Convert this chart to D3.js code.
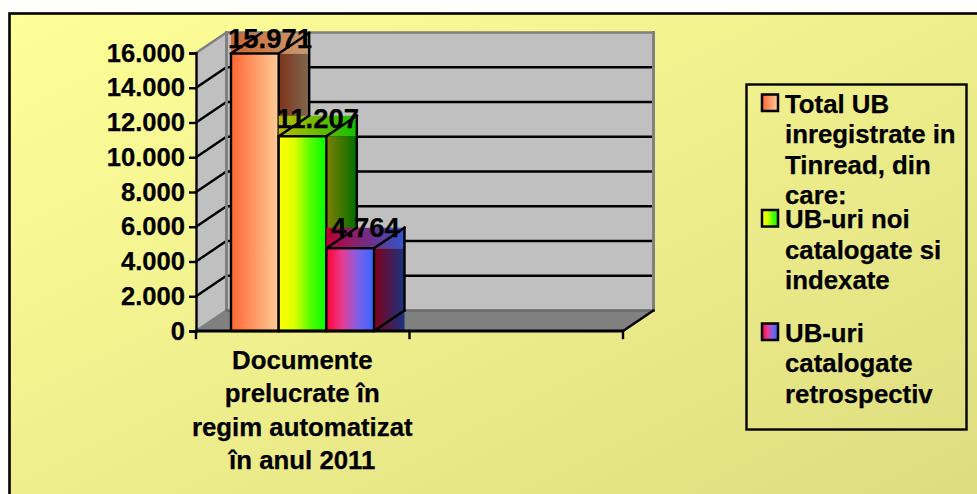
<!DOCTYPE html>
<html><head><meta charset="utf-8">
<style>html,body{margin:0;padding:0;background:#fff;overflow:hidden}svg{display:block}text{font-family:"Liberation Sans",Arial,sans-serif;font-weight:bold;fill:#000;stroke:#000;stroke-width:.25px}</style>
<script src="https://cdn.jsdelivr.net/npm/d3@7"></script></head>
<body><div id="chart"></div>
<script>
const categories = ["Documente prelucrate în regim automatizat în anul 2011", ""];
const categoryLines = ["Documente", "prelucrate în", "regim automatizat", "în anul 2011"];
const seriesNames = ["total", "noi", "retro"];
const seriesValues = [15971, 11207, 4764];
const valueLabels = ["15.971", "11.207", "4.764"];
const yTicks = [0, 2000, 4000, 6000, 8000, 10000, 12000, 14000, 16000];
const yTickLabels = ["0", "2.000", "4.000", "6.000", "8.000", "10.000", "12.000", "14.000", "16.000"];
const legendLines = [
  ["Total UB", "inregistrate in", "Tinread, din", "care:"],
  ["UB-uri noi", "catalogate si", "indexate"],
  ["UB-uri", "catalogate", "retrospectiv"]
];
const frontColors = [["#FF6633", "#FFCC99"], ["#FFFF00", "#DDFF00", "#55FF00", "#00FF00"], ["#FF0033", "#E83C90", "#8060E8", "#3366FF"]];
const topColors = [["#CC6633", "#C89C70"], ["#BBBB00", "#14BE00"], ["#BB0033", "#3355CC"]];
const sideColors = [["#7D3319", "#806850"], ["#808000", "#006E00"], ["#800019", "#193380"]];

const W = 977, H = 494, DX = 30.5, DY = -20.5;
const svg = d3.select("#chart").append("svg").attr("width", W).attr("height", H);
const defs = svg.append("defs");
function grad(id, c, x1, y1, x2, y2) {
  const g = defs.append("linearGradient").attr("id", id).attr("x1", x1).attr("y1", y1).attr("x2", x2).attr("y2", y2);
  c.forEach((col, i) => g.append("stop").attr("offset", i / (c.length - 1)).attr("stop-color", col));
}
grad("bg", ["#FFFF99", "#DDDD80"], 0, 0, 1, 1);
seriesNames.forEach((s, i) => {
  grad("front" + i, frontColors[i], 0, 0, 1, 0);
  grad("top" + i, topColors[i], 0, 0, 1, 0);
  grad("side" + i, sideColors[i], 0, 0, 1, 0);
});

// background
svg.append("rect").attr("x", 9.5).attr("y", 13.5).attr("width", 975).attr("height", 490)
  .attr("fill", "url(#bg)").attr("stroke", "#000").attr("stroke-width", 2.6);

const y = d3.scaleLinear().domain([0, 16000]).range([331, 53]);
const labelY = d3.scaleLinear().domain([0, 16000]).range([317, 47.5]);
const x = d3.scaleBand().domain(categories).range([196, 623]);
const xs = d3.scaleBand().domain(seriesNames).range([231, 374]);
const x0 = x.range()[0], x1 = x.range()[1], yB = y(0), yT = y(16000);

const line = (g, a, b, c, d, col, w) => g.append("line").attr("x1", a).attr("y1", b).attr("x2", c).attr("y2", d)
  .attr("stroke", col).attr("stroke-width", w).attr("stroke-linecap", "square");
const poly = (g, pts, fill) => g.append("polygon").attr("points", pts.map(p => p.join(",")).join(" ")).attr("fill", fill);

const walls = svg.append("g");
poly(walls, [[x0 + DX, yT + DY], [x1 + DX, yT + DY], [x1 + DX, yB + DY], [x0 + DX, yB + DY]], "#C0C0C0");
poly(walls, [[x0, yT], [x0 + DX, yT + DY], [x0 + DX, yB + DY], [x0, yB]], "#C0C0C0");
poly(walls, [[x0, yB], [x0 + DX, yB + DY], [x1 + DX, yB + DY], [x1, yB]], "#808080");

yTicks.slice(1, -1).forEach(v => {
  line(walls, x0, y(v), x0 + DX, y(v) + DY, "#000", 2.4);
  line(walls, x0 + DX, y(v) + DY, x1 + DX, y(v) + DY, "#000", 2.4);
});
line(walls, x0, yT, x0 + DX, yT + DY, "#808080", 2.5);
line(walls, x0 + DX, yT + DY, x1 + DX, yT + DY, "#808080", 2.5);
line(walls, x0 + DX, yT + DY, x0 + DX, yB + DY, "#808080", 3);
line(walls, x1 + DX, yT + DY, x1 + DX, yB + DY, "#808080", 3);
line(walls, x0, yB, x0 + DX, yB + DY, "#808080", 2.5);
line(walls, x0 + DX, yB + DY, x1 + DX, yB + DY, "#6a6a6a", 2.5);

// bars, back to front by series
const bars = svg.append("g");
seriesValues.forEach((v, i) => {
  const s = seriesNames[i], l = xs(s), r = l + xs.bandwidth(), t = y(v);
  const g = bars.append("g");
  g.append("rect").attr("x", r).attr("y", t).attr("width", DX).attr("height", yB - t).attr("fill", `url(#side${i})`);
  g.append("rect").attr("x", l).attr("y", t + DY).attr("width", r - l + DX).attr("height", -DY).attr("fill", `url(#top${i})`);
  g.append("rect").attr("x", l).attr("y", t).attr("width", r - l).attr("height", yB - t).attr("fill", `url(#front${i})`);
  line(g, r + DX, t + DY, r + DX, yB + DY, "#000", 2.4);
  line(g, r, yB, r + DX, yB + DY, "#000", 2.4);
  line(g, l, t, l + DX, t + DY, "#000", 2.4);
  line(g, r, t, r + DX, t + DY, "#000", 2.4);
  g.append("rect").attr("x", l).attr("y", t).attr("width", r - l).attr("height", yB - t)
    .attr("fill", "none").attr("stroke", "#000").attr("stroke-width", 2.4);
});

// axes
const yAxis = d3.axisLeft(y).tickValues(yTicks).tickSize(7).tickPadding(4)
  .tickFormat((d, i) => yTickLabels[i]);
const yg = svg.append("g").attr("transform", `translate(${x0},0)`).call(yAxis);
yg.selectAll("path,line").attr("stroke", "#000").attr("stroke-width", 2.4);
yg.selectAll("text").style("font-size", "25.6px").style("font-family", '"Liberation Sans"').style("font-weight", "bold");

const xg = svg.append("g").attr("transform", `translate(0,${yB})`);
xg.append("line").attr("x1", x0).attr("x2", x1).attr("stroke", "#000").attr("stroke-width", 3);
line(svg, x1, yB, x1 + DX, yB + DY, "#000", 2.4);
[x0, x0 + x.bandwidth(), x1].forEach(p => line(xg, p, 0, p, 7, "#000", 2.4));
const cat = svg.append("text").attr("text-anchor", "middle").style("font-size", "25.8px");
categoryLines.forEach((t, i) => cat.append("tspan").attr("x", x(categories[0]) + x.bandwidth() / 2 - 0.5).attr("y", 369 + i * 33.3).text(t));

// value labels
seriesValues.forEach((v, i) => {
  const s = seriesNames[i];
  svg.append("text").attr("x", xs(s) + xs.bandwidth() / 2 + DX / 2).attr("y", labelY(v))
    .attr("text-anchor", "middle").style("font-size", "27.5px").text(valueLabels[i]);
});

// legend
const lg = svg.append("g");
lg.append("rect").attr("x", 746.5).attr("y", 84.5).attr("width", 220).attr("height", 345)
  .attr("fill", "none").attr("stroke", "#000").attr("stroke-width", 2.4);
const legendY = [112.5, 228, 341.5];
legendLines.forEach((lines, i) => {
  lg.append("rect").attr("x", 762).attr("y", legendY[i] - 18).attr("width", 16).attr("height", 16.5)
    .attr("fill", `url(#front${i})`).attr("stroke", "#000").attr("stroke-width", 2.5);
  lines.forEach((t, j) => lg.append("text").attr("x", 785).attr("y", legendY[i] + j * 30.5).style("font-size", "25.8px").text(t));
});
</script></body></html>
